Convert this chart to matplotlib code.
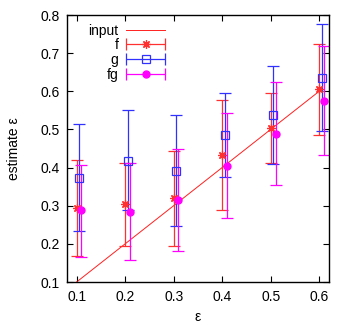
import numpy as np
import matplotlib.pyplot as plt
from matplotlib.container import ErrorbarContainer
from matplotlib.legend_handler import HandlerErrorbar

plt.rcParams['font.family'] = ['Liberation Sans', 'DejaVu Sans']
plt.rcParams['font.size'] = 10

# входные значения epsilon
eps = np.array([0.1, 0.2, 0.3, 0.4, 0.5, 0.6])

# оценки f, g, fg и границы погрешностей (низ, верх)
f_val = np.array([0.294, 0.304, 0.321, 0.433, 0.505, 0.605])
f_lo = np.array([0.167, 0.195, 0.194, 0.288, 0.413, 0.486])
f_hi = np.array([0.420, 0.413, 0.444, 0.577, 0.596, 0.723])

g_val = np.array([0.373, 0.418, 0.392, 0.485, 0.539, 0.636])
g_lo = np.array([0.233, 0.288, 0.246, 0.374, 0.409, 0.495])
g_hi = np.array([0.513, 0.550, 0.537, 0.595, 0.667, 0.776])

fg_val = np.array([0.288, 0.284, 0.316, 0.404, 0.489, 0.575])
fg_lo = np.array([0.165, 0.158, 0.181, 0.267, 0.354, 0.432])
fg_hi = np.array([0.408, 0.413, 0.449, 0.542, 0.624, 0.719])

fig = plt.figure(figsize=(3.54, 3.27), dpi=100)
ax = fig.add_axes([0.189, 0.1376, 0.740, 0.8165])

ax.plot(eps, eps, color='#ff2020', lw=0.7, label='input')

kw = dict(linestyle='none', elinewidth=0.9, capsize=4, capthick=0.9)
c_f = ax.errorbar(eps, f_val, yerr=[f_val - f_lo, f_hi - f_val], color='#ff3030',
                  marker=(8, 2, 0), ms=6, mew=0.9, label='f', **kw)
c_g = ax.errorbar(eps + 0.005, g_val, yerr=[g_val - g_lo, g_hi - g_val], color='#3030ff',
                  marker='s', ms=5.5, mfc='none', mew=0.9, label='g', **kw)
c_fg = ax.errorbar(eps + 0.01, fg_val, yerr=[fg_val - fg_lo, fg_hi - fg_val], color='#ff00ff',
                   marker='o', ms=5, label='fg', **kw)

# в легенде рисуем горизонтальные "усы", как в gnuplot
for c in (c_f, c_g, c_fg):
    c.has_xerr = True
    c.has_yerr = False

ax.set_xlim(0.08, 0.62)
ax.set_ylim(0.1, 0.8)
ax.set_xticks(eps)
ax.set_yticks(np.arange(0.1, 0.81, 0.1))
ax.tick_params(direction='in', length=4, width=0.8, top=True, right=True, pad=5,
               labelsize=10)
ax.tick_params(axis='x', pad=6)
for s in ax.spines.values():
    s.set_linewidth(1.0)

ax.set_xlabel('ε', labelpad=4)
ax.set_ylabel('estimate ε', labelpad=14)

ax.legend(loc='upper right', bbox_to_anchor=(0.375, 0.968), markerfirst=False,
          frameon=False, handlelength=2.8, handletextpad=0.55, labelspacing=0.05,
          borderaxespad=0, borderpad=0, fontsize=10,
          handler_map={ErrorbarContainer: HandlerErrorbar(xerr_size=1.4)})

fig.savefig('out.png', dpi=100)
